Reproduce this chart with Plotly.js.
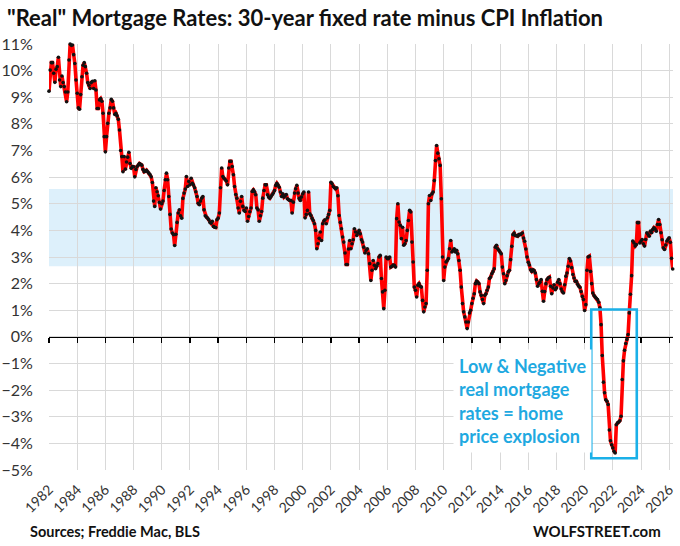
<!DOCTYPE html>
<html>
<head>
<meta charset="utf-8">
<script src="https://cdn.plot.ly/plotly-3.0.1.min.js"></script>
<style>
  html, body { margin: 0; padding: 0; background: #fff; }
  #chart { width: 680px; height: 546px; }
</style>
</head>
<body>
<div id="chart"></div>
<script>
// ---- Data (monthly) ----
const startYear = 1982;   // first value = January 1982
const realRate = [
  // 1982
  9.23, 10.02, 10.3, 10.3, 9.9, 9.56, 10.05, 10.15, 10.5, 9.65, 9.4, 9.8,
  // 1983
  9.55, 9.4, 9.2, 8.83, 9.2, 10.4, 11.0, 10.95, 10.96, 10.6, 10.27, 9.65,
  // 1984
  9.15, 8.6, 8.55, 9.1, 9.77, 10.2, 10.3, 10.15, 9.9, 9.55, 9.45, 9.33,
  // 1985
  9.55, 9.6, 9.33, 9.62, 9.27, 8.58, 8.58, 8.9, 8.95, 8.85, 8.4, 7.52,
  // 1986
  6.95, 7.52, 8.02, 8.4, 8.6, 8.92, 8.85, 8.6, 8.35, 8.4, 8.3, 8.17,
  // 1987
  7.77, 7.0, 6.77, 6.2, 6.77, 6.3, 6.57, 6.75, 6.93, 6.51, 6.33, 6.4,
  // 1988
  6.39, 6.01, 6.29, 6.4, 6.45, 6.51, 6.48, 6.45, 6.29, 6.2, 6.22, 6.26,
  // 1989
  6.2, 6.15, 6.1, 6.01, 5.8, 5.1, 4.9, 5.6, 5.45, 5.3, 5.05, 4.8,
  // 1990
  5.0, 5.1, 5.5, 5.9, 6.15, 5.9, 5.27, 4.6, 4.05, 3.9, 3.84, 3.43,
  // 1991
  3.85, 4.3, 4.65, 4.77, 4.55, 4.46, 5.2, 5.4, 5.55, 6.02, 5.65, 5.84,
  // 1992
  5.71, 5.96, 5.77, 5.7, 5.6, 5.45, 5.27, 5.02, 4.96, 5.1, 5.21, 5.27,
  // 1993
  4.77, 4.55, 4.5, 4.46, 4.4, 4.3, 4.27, 4.34, 4.15, 4.12, 4.11, 4.4,
  // 1994
  4.46, 4.65, 5.6, 6.34, 6.02, 5.96, 5.9, 5.85, 5.71, 6.34, 6.59, 6.59,
  // 1995
  6.4, 6.09, 5.65, 5.35, 5.21, 4.84, 4.65, 5.09, 5.27, 4.9, 4.75, 4.71,
  // 1996
  4.84, 4.34, 4.52, 4.7, 4.84, 5.46, 5.52, 5.45, 5.34, 4.84, 4.77, 4.34,
  // 1997
  4.55, 4.71, 5.21, 5.5, 5.71, 5.71, 5.34, 5.25, 5.21, 5.27, 5.34, 5.4,
  // 1998
  5.5, 5.69, 5.77, 5.7, 5.62, 5.44, 5.27, 5.37, 5.25, 5.3, 5.35, 5.19,
  // 1999
  5.15, 5.12, 5.12, 4.65, 5.06, 5.4, 5.56, 5.69, 5.4, 5.2, 5.12, 5.25,
  // 2000
  5.37, 5.44, 4.47, 4.6, 4.75, 5.44, 4.62, 4.56, 4.45, 4.37, 4.25, 4.0,
  // 2001
  3.31, 3.5, 3.7, 3.94, 3.62, 4.25, 4.35, 4.4, 4.25, 4.47, 4.6, 4.75,
  // 2002
  5.81, 5.75, 5.65, 5.6, 5.56, 5.6, 5.3, 4.56, 4.3, 4.06, 3.75, 3.56,
  // 2003
  3.15, 2.72, 2.72, 3.3, 3.62, 3.31, 3.5, 3.65, 4.06, 3.94, 3.81, 3.9,
  // 2004
  4.0, 3.87, 3.65, 3.56, 3.37, 3.15, 3.25, 3.31, 3.12, 2.75, 2.12, 2.5,
  // 2005
  2.87, 2.69, 2.56, 2.65, 2.75, 3.0, 3.06, 2.19, 1.69, 1.06, 1.75, 3.0,
  // 2006
  2.94, 2.94, 3.0, 2.62, 2.65, 2.7, 2.69, 2.62, 4.44, 5.0, 4.31, 4.19,
  // 2007
  3.69, 4.12, 3.44, 3.5, 3.62, 4.0, 4.37, 4.75, 4.69, 3.56, 2.81, 1.87,
  // 2008
  1.75, 1.5, 1.94, 2.0, 1.9, 1.87, 1.37, 0.94, 1.12, 1.25, 2.5, 5.0,
  // 2009
  5.31, 5.12, 5.37, 5.44, 5.87, 6.62, 7.19, 6.9, 6.69, 6.44, 5.19, 3.0,
  // 2010
  2.12, 2.62, 2.81, 2.87, 2.94, 3.31, 3.62, 3.19, 3.25, 3.31, 3.19, 3.25,
  // 2011
  3.12, 2.87, 2.5, 1.87, 1.25, 0.94, 0.75, 0.56, 0.31, 0.56, 0.9, 1.0,
  // 2012
  1.25, 1.45, 1.62, 2.0, 2.1, 2.06, 2.0, 1.69, 1.56, 1.4, 1.25, 1.56,
  // 2013
  1.62, 1.75, 1.87, 2.19, 2.25, 2.37, 2.45, 2.56, 3.37, 3.44, 3.31, 3.25,
  // 2014
  3.19, 3.12, 2.62, 2.37, 2.0, 2.12, 2.3, 2.44, 2.5, 2.9, 3.4, 3.84,
  // 2015
  3.9, 3.81, 3.8, 3.78, 3.84, 3.84, 3.86, 3.9, 3.71, 3.59, 3.3, 3.0,
  // 2016
  2.8, 2.7, 2.52, 2.46, 2.52, 2.49, 2.4, 2.15, 1.9, 2.0, 2.05, 2.15,
  // 2017
  1.71, 1.34, 1.7, 2.0, 2.15, 2.21, 2.24, 1.9, 1.62, 1.84, 1.96, 1.77,
  // 2018
  1.84, 2.05, 2.15, 2.0, 1.8, 1.7, 1.65, 1.96, 2.28, 2.4, 2.65, 2.94,
  // 2019
  2.85, 2.6, 2.34, 2.21, 2.09, 2.09, 1.98, 1.9, 1.86, 1.7, 1.52, 1.4,
  // 2020
  0.99, 1.21, 2.5, 3.0, 3.03, 2.46, 2.0, 1.65, 1.55, 1.5, 1.45, 1.4,
  // 2021
  1.3, 1.09, 0.46, -0.7, -1.7, -2.1, -2.36, -2.42, -2.54, -3.5, -3.9, -4.05,
  // 2022
  -4.17, -4.3, -4.36, -3.3, -3.23, -3.2, -3.15, -2.98, -1.6, -0.9, -0.5, -0.25,
  // 2023
  -0.1, 0.09, 0.9, 1.6, 2.3, 3.6, 3.53, 3.41, 3.47, 4.29, 4.29, 3.53,
  // 2024
  3.6, 3.66, 3.5, 3.41, 3.66, 3.91, 3.85, 3.78, 3.97, 3.91, 4.03, 4.1,
  // 2025
  4.05, 3.97, 4.22, 4.41, 4.22, 3.91, 3.65, 3.35, 3.28, 3.45, 3.6, 3.66,
  // 2026
  3.72, 3.55, 2.95, 2.55
];
const yearTicks = [1982,1984,1986,1988,1990,1992,1994,1996,1998,2000,2002,2004,
                   2006,2008,2010,2012,2014,2016,2018,2020,2022,2024,2026];
const bandRange = [2.65, 5.55];            // shaded "normal" band (%)
const boxYears = [2020.47, 2023.7];        // highlighted box (years)
const boxRange = [-4.56, 1.03];            // highlighted box (%)
const titleText = '"Real" Mortgage Rates: 30-year fixed rate minus CPI Inflation';
const noteText = 'Low &amp; Negative<br>real mortgage<br>rates = home<br>price explosion';
const sourceText = 'Sources; Freddie Mac, BLS';
const brandText = 'WOLFSTREET.com';

// ---- Build ----
const xs = realRate.map((v, i) => startYear + i / 12);
const FONT = 'Lato, "Open Sans", "Liberation Sans", sans-serif';
const BLUE = '#1fa9e1';
const Y_RANGE = [-5, 11];
const X_RANGE = [1982, 2026.27];

const trace = {
  type: 'scatter', mode: 'lines+markers',
  x: xs, y: realRate,
  line: { color: '#ff0000', width: 3.6 },
  marker: { color: '#111', size: 3.6 },
  cliponaxis: false,
  hoverinfo: 'skip'
};
// invisible helper on the overlay axis carrying the zero-line ticks
const tickHelper = {
  type: 'scatter', mode: 'markers', x: [yearTicks[0]], y: [0],
  xaxis: 'x2', yaxis: 'y', marker: { opacity: 0 }, hoverinfo: 'skip'
};

const shapes = [
  { type: 'rect', xref: 'paper', yref: 'y', x0: 0, x1: 1, y0: bandRange[0], y1: bandRange[1],
    fillcolor: '#ddf0fb', line: { width: 0 }, layer: 'below' },
  { type: 'rect', xref: 'x', yref: 'y', x0: boxYears[0], x1: boxYears[1], y0: boxRange[0], y1: boxRange[1],
    fillcolor: 'rgba(0,0,0,0)', line: { color: '#1ab0e8', width: 2.6 }, layer: 'above' }
];

const layout = {
  width: 680, height: 546,
  margin: { l: 49, r: 7, t: 44, b: 76 },
  paper_bgcolor: '#fff', plot_bgcolor: 'rgba(0,0,0,0)',
  font: { family: FONT, color: '#333' },
  showlegend: false,
  title: {
    text: '<b>' + titleText + '</b>',
    font: { family: FONT, size: 22, color: '#111' },
    xref: 'container', x: 7 / 680, xanchor: 'left',
    yref: 'container', y: 1 - 18 / 546, yanchor: 'middle'
  },
  xaxis: {
    range: X_RANGE,
    tickmode: 'array', tickvals: yearTicks, ticktext: yearTicks.map(String),
    tickangle: -45, tickfont: { size: 14, color: '#333' },
    showgrid: true, gridcolor: '#d9d9d9', gridwidth: 1,
    zeroline: false, showline: false,
    ticks: 'outside', ticklen: 5, tickcolor: 'rgba(0,0,0,0)', fixedrange: true
  },
  xaxis2: {
    range: X_RANGE, overlaying: 'x', anchor: 'free',
    position: (0 - Y_RANGE[0]) / (Y_RANGE[1] - Y_RANGE[0]),
    side: 'bottom',
    tickmode: 'array', tickvals: yearTicks, showticklabels: false,
    ticks: 'outside', ticklen: 5, tickwidth: 1.3, tickcolor: '#000',
    showline: true, linecolor: '#000', linewidth: 1.6,
    showgrid: false, zeroline: false, fixedrange: true
  },
  yaxis: {
    range: Y_RANGE, dtick: 1, tick0: 0, ticksuffix: '%',
    tickfont: { size: 16, color: '#333' },
    showgrid: true, gridcolor: '#d9d9d9', gridwidth: 1,
    zeroline: false, showline: false,
    ticks: 'outside', ticklen: 12, tickcolor: 'rgba(0,0,0,0)', fixedrange: true
  },
  shapes: shapes,
  annotations: [
    { xref: 'paper', yref: 'paper', x: (453 - 49) / 624, y: (470 - 401) / 426,
      xanchor: 'left', yanchor: 'middle', align: 'left', showarrow: false,
      text: '<b>' + noteText + '</b>', bgcolor: '#fff', borderpad: 5,
      font: { family: FONT, size: 18, color: BLUE } },
    { xref: 'paper', yref: 'paper', xanchor: 'left', yanchor: 'middle',
      x: (28 - 49) / 624, y: (470 - 531) / 426, showarrow: false,
      text: '<b>' + sourceText + '</b>', font: { family: FONT, size: 14.5, color: '#111' } },
    { xref: 'paper', yref: 'paper', xanchor: 'right', yanchor: 'middle',
      x: (663 - 49) / 624, y: (470 - 531) / 426, showarrow: false,
      text: '<b>' + brandText + '</b>', font: { family: FONT, size: 15, color: '#111' } }
  ]
};

Plotly.newPlot('chart', [trace, tickHelper], layout, { displayModeBar: false, staticPlot: true });
</script>
</body>
</html>
